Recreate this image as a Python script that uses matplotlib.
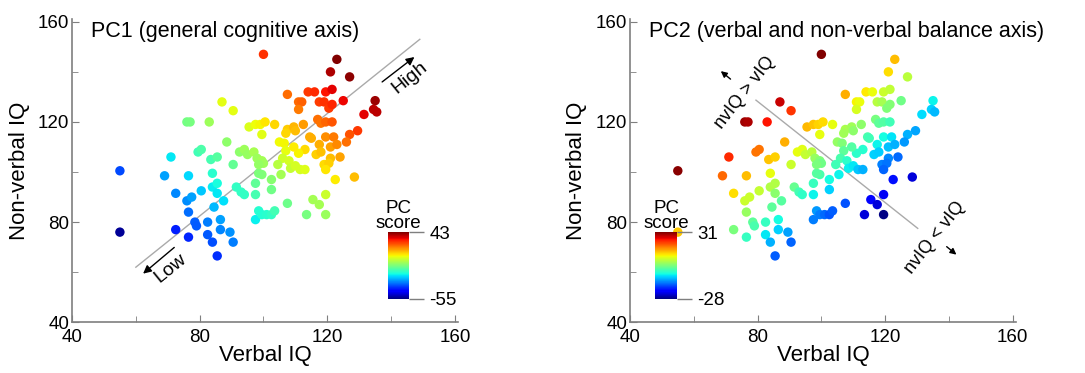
import matplotlib
matplotlib.use("Agg")
import matplotlib.pyplot as plt

plt.rcParams["font.family"] = ["Liberation Sans", "DejaVu Sans"]

# verbal IQ / non-verbal IQ of each subject
verbal = [100, 123, 121, 127, 107.5, 114, 116, 119.5, 121.5, 111, 112, 111, 117.5, 119, 120.5,
          121.5, 125, 135, 134.5, 135.5, 131.5, 129.5, 127, 126, 124, 112.5, 117, 118, 119.5, 121.5,
          114.5, 119.5, 122, 117.5, 121, 123, 116.5, 118, 121, 113, 111, 119, 120.5, 119.5, 122.5,
          128.5, 87, 90.5, 76, 77, 83, 95.5, 97.5, 99, 100.5, 99.5, 103.5, 107.5, 109.5, 107,
          110, 88.5, 71, 79.5, 80.5, 83.5, 85.5, 90.5, 92.5, 94, 95, 97, 98, 99.5, 105,
          106.5, 109.5, 107, 106, 108, 108.5, 110, 111.5, 113, 104.5, 105.5, 115, 55, 55, 69,
          76.5, 72.5, 76, 77.5, 80.5, 76.5, 84, 84, 85.5, 85.5, 87.5, 84.5, 78.5, 79, 72.5,
          76.5, 82.5, 86.5, 82.5, 84, 86.5, 89.5, 90.5, 85.5, 91.5, 93, 94, 97.5, 97.5, 98.5,
          99.5, 101, 102.5, 103.5, 107.5, 113.5, 115.5, 117.5, 119.5, 119.5, 102.5, 102.5, 99.5, 98.5, 97.5,
          100, 98.5]
nonverbal = [147, 145, 140, 138, 131, 132, 132, 132, 133, 128, 128, 125, 128, 128, 125.5,
             127, 128.5, 128.5, 125, 124, 123, 116.5, 115, 112, 106, 119, 121, 119.5, 120, 120,
             114, 114, 114, 111, 110, 111, 107, 108, 105.5, 109, 107.5, 103, 103.5, 101, 97,
             98, 128, 124.5, 120, 120, 120, 118, 119, 119, 120, 115, 119, 117, 118, 115.5,
             116.5, 112, 106, 108, 109, 105, 106, 103, 108, 109, 107, 108, 105.5, 104.5, 112,
             111.5, 110, 108.5, 105.5, 104.5, 101.5, 102.5, 101, 101, 103, 99, 113.5, 100.5, 76, 98.5,
             98.5, 91.5, 88.5, 90, 92.5, 84, 99.5, 94, 95.5, 91.5, 88.5, 86, 80, 78.5, 77,
             74, 80, 81, 75, 72, 77, 76, 72, 66.5, 94, 92, 91, 91, 81, 84.5,
             83, 83, 83, 84.5, 87.5, 83, 89, 87, 91, 83, 93, 97, 99, 99.5, 95.5,
             103.5, 103]

# PC scores of each subject (colour of each dot)
pc1 = [29.0, 43.8, 38.9, 41.7, 23.0, 28.3, 29.7, 32.2, 34.3, 23.3, 24.0, 21.2, 27.9, 29.0, 28.3,
       30.1, 33.6, 40.7, 37.8, 37.8, 34.3, 28.3, 25.5, 22.6, 17.0, 18.0, 22.6, 22.3, 23.7, 25.1,
       15.9, 19.4, 21.2, 15.9, 17.7, 19.8, 12.4, 14.1, 14.5, 11.3, 8.8, 11.3, 12.7, 10.3, 9.5,
       14.5, 6.4, 6.4, -7.1, -6.4, -2.1, 5.3, 7.4, 8.5, 10.3, 6.0, 11.7, 13.1, 15.2, 11.7,
       14.5, -3.9, -20.5, -13.1, -11.7, -12.4, -10.3, -8.8, -3.9, -2.1, -2.8, -0.7, -1.8, -1.4, 7.8,
       8.5, 9.5, 6.7, 3.9, 4.6, 2.8, 4.6, 4.6, 5.7, 1.1, -1.1, 15.9, -35.7, -53.0, -27.2,
       -21.9, -29.7, -29.3, -27.2, -23.3, -32.2, -15.9, -19.8, -17.7, -20.5, -21.2, -25.1, -33.6, -34.3, -40.0,
       -39.2, -30.8, -27.2, -34.3, -35.4, -30.1, -28.6, -30.8, -38.2, -14.5, -14.8, -14.8, -12.4, -19.4, -16.3,
       -16.6, -15.6, -14.5, -12.7, -7.8, -6.7, -1.1, -1.1, 3.2, -2.5, -7.4, -4.6, -5.3, -5.7, -9.2,
       -1.8, -3.2]
pc2 = [31.5, 13.8, 11.7, 6.0, 14.8, 11.0, 9.5, 7.1, 6.4, 10.3, 9.5, 8.1, 5.7, 4.6, 1.8,
       2.1, 0.7, -6.4, -8.5, -9.9, -7.8, -11.0, -10.3, -11.7, -14.5, 2.8, 1.1, -0.7, -1.4, -2.8,
       -2.1, -5.7, -7.4, -6.4, -9.5, -10.3, -8.5, -8.8, -12.7, -4.6, -4.2, -13.1, -13.8, -14.8, -19.8,
       -23.3, 27.2, 22.3, 29.3, 28.6, 24.4, 14.1, 13.4, 12.4, 12.0, 9.2, 9.2, 4.9, 4.2, 4.2,
       2.8, 14.8, 23.0, 18.4, 18.4, 13.4, 12.7, 7.1, 9.2, 8.8, 6.7, 6.0, 3.5, 1.8, 3.2,
       1.8, -1.4, -0.7, -2.1, -4.2, -6.7, -7.1, -9.2, -10.3, -2.8, -6.4, -2.8, 30.4, 13.1, 19.1,
       13.8, 11.7, 7.1, 7.1, 6.7, 3.5, 9.2, 5.3, 5.3, 2.5, -1.1, -0.7, -0.7, -2.1, 1.4,
       -3.5, -3.5, -5.7, -7.1, -10.3, -8.5, -11.3, -14.8, -15.2, 0.0, -2.5, -3.9, -6.4, -13.4, -11.7,
       -13.4, -14.5, -15.6, -15.2, -15.9, -23.3, -20.5, -23.3, -21.9, -27.6, -8.5, -5.7, -2.1, -1.1, -3.2,
       0.7, 1.4]

titles = ["PC1 (general cognitive axis)", "PC2 (verbal and non-verbal balance axis)"]
pc_limits = [(-55, 43), (-28, 31)]

fig = plt.figure(figsize=(10.85, 3.73), dpi=100)
ax1 = fig.add_axes([0.0664, 0.136, 0.3558, 0.8123])
ax2 = fig.add_axes([0.5806, 0.136, 0.3558, 0.8123])
cax1 = fig.add_axes([0.3576, 0.1984, 0.0194, 0.1796])
cax2 = fig.add_axes([0.6037, 0.1984, 0.0203, 0.1796])

spine_col = "#7f7f7f"
for ax, title, scores, (lo, hi), cax in zip([ax1, ax2], titles, [pc1, pc2], pc_limits, [cax1, cax2]):
    sc = ax.scatter(verbal, nonverbal, c=scores, cmap="jet", vmin=lo, vmax=hi,
                    s=46, edgecolors="none", zorder=3)
    ax.set_xlim(40, 161)
    ax.set_ylim(40, 161)
    ax.set_xticks([40, 80, 120, 160])
    ax.set_yticks([40, 80, 120, 160])
    ax.set_xticks([60, 100, 140], minor=True)
    ax.set_yticks([60, 100, 140], minor=True)
    ax.tick_params(which="both", direction="in", color=spine_col, labelsize=13.5)
    ax.tick_params(axis="x", pad=5)
    ax.tick_params(axis="y", pad=2)
    ax.tick_params(which="major", length=5)
    ax.tick_params(which="minor", length=4)
    for side in ["top", "right"]:
        ax.spines[side].set_visible(False)
    for side in ["left", "bottom"]:
        ax.spines[side].set_color(spine_col)
        ax.spines[side].set_linewidth(1.2)
    ax.set_xlabel("Verbal IQ", fontsize=16, labelpad=-1)
    ax.set_ylabel("Non-verbal IQ", fontsize=16, labelpad=6)
    ax.text(0.05, 0.995, title, transform=ax.transAxes, fontsize=15.5, va="top", ha="left")

    cb = fig.colorbar(sc, cax=cax, ticks=[lo, hi])
    cb.outline.set_visible(False)
    cb.ax.tick_params(length=11, color=spine_col, labelsize=13.5, width=1)
    cb.ax.set_yticklabels([str(lo), str(hi)])
    cb.ax.set_title("PC\nscore", fontsize=13.5, linespacing=0.85, pad=2)

# PC1 direction
ax1.plot([60, 149], [62, 153], color="#aaaaaa", lw=1, zorder=2)
ax1.annotate("", xy=(148, 146.6), xytext=(136.5, 135.3),
             arrowprops=dict(arrowstyle="-|>", color="k", lw=1, mutation_scale=12))
ax1.annotate("", xy=(61.6, 58.7), xytext=(72.7, 70.6),
             arrowprops=dict(arrowstyle="-|>", color="k", lw=1, mutation_scale=12))
ax1.text(145.8, 137.5, "High", rotation=39, fontsize=14, ha="center", va="center")
ax1.text(70.9, 61.4, "Low", rotation=39, fontsize=14, ha="center", va="center")

# PC2 direction
ax2.plot([79.5, 130.2], [128.7, 77.5], color="#aaaaaa", lw=1, zorder=2)
ax2.annotate("", xy=(67.8, 141.0), xytext=(72.2, 136.4),
             arrowprops=dict(arrowstyle="-|>", color="k", lw=1, mutation_scale=9))
ax2.annotate("", xy=(143.0, 66.3), xytext=(138.6, 70.9),
             arrowprops=dict(arrowstyle="-|>", color="k", lw=1, mutation_scale=9))
ax2.text(76.0, 131.7, "nvIQ > vIQ", rotation=52, fontsize=13, ha="center", va="center")
ax2.text(135.6, 73.6, "nvIQ < vIQ", rotation=52, fontsize=13, ha="center", va="center")

fig.savefig("out.png", dpi=100)
